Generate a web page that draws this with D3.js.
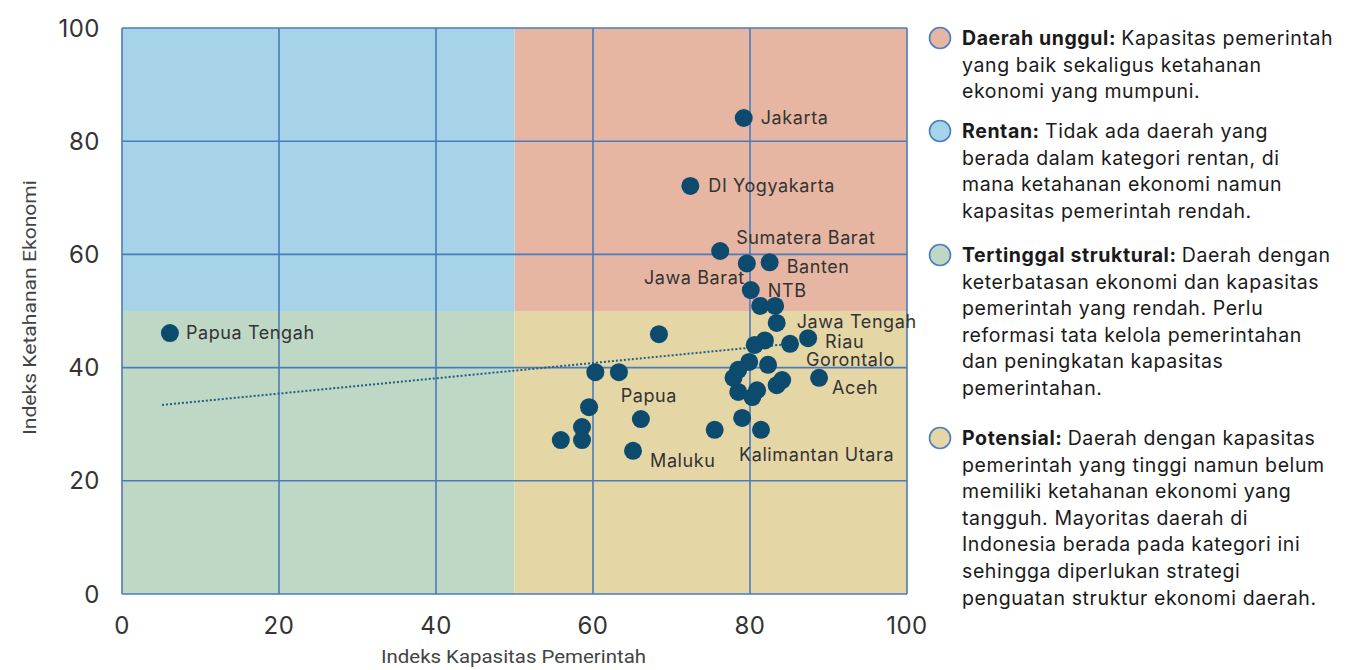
<!DOCTYPE html>
<html>
<head>
<meta charset="utf-8">
<script src="https://cdn.jsdelivr.net/npm/d3@7"></script>
<style>
  body { margin: 0; background: #fff; }
  text { font-family: Inter, "Noto Sans", sans-serif; }
</style>
</head>
<body>
<svg id="chart" width="1364" height="670"></svg>
<script>
// index values
var provinces = ["Jakarta","DI Yogyakarta","Sumatera Barat","Jawa Barat","Banten","NTB","p7","p8","Jawa Tengah","Riau",
  "p11","Gorontalo","p13","p14","p15","p16","p17","p18","p19","p20","p21","Aceh","p23","p24","Kalimantan Utara",
  "Papua Tengah","p27","p28","p29","Papua","p31","p32","p33","Maluku","p35","p36"];
var kapasitas = [79.2,72.4,76.2,79.6,82.5,80.1,81.3,83.2,83.4,87.4,
  85.1,82.3,81.9,80.6,79.9,78.5,77.9,78.5,80.3,80.9,83.4,88.8,79.0,75.5,81.4,
  6.1,68.4,60.3,63.3,66.1,59.5,58.6,58.6,65.1,55.9,84.1];
var ketahanan = [84.1,72.1,60.6,58.4,58.6,53.7,50.9,50.9,47.9,45.2,
  44.2,40.5,44.8,44.0,41.0,39.6,38.2,35.7,34.8,36.0,36.9,38.2,31.1,29.0,29.0,
  46.1,45.9,39.2,39.2,30.9,33.0,29.5,27.2,25.3,27.2,37.8];

var trendX = [5.1, 85.1];
var trendY = [33.4, 44.2];

var ticks = [0, 20, 40, 60, 80, 100];

var quadrants = [
  {name: "Daerah unggul", x0: 50, x1: 100, y0: 50, y1: 100, color: "#e7b6a2",
   text: ["Kapasitas pemerintah", "yang baik sekaligus ketahanan", "ekonomi yang mumpuni."]},
  {name: "Rentan", x0: 0, x1: 50, y0: 50, y1: 100, color: "#a7d3e8",
   text: ["Tidak ada daerah yang", "berada dalam kategori rentan, di", "mana ketahanan ekonomi namun", "kapasitas pemerintah rendah."]},
  {name: "Tertinggal struktural", x0: 0, x1: 50, y0: 0, y1: 50, color: "#bfd8c5",
   text: ["Daerah dengan", "keterbatasan ekonomi dan kapasitas", "pemerintah yang rendah. Perlu", "reformasi tata kelola pemerintahan", "dan peningkatan kapasitas", "pemerintahan."]},
  {name: "Potensial", x0: 50, x1: 100, y0: 0, y1: 50, color: "#e5d6a6",
   text: ["Daerah dengan kapasitas", "pemerintah yang tinggi namun belum", "memiliki ketahanan ekonomi yang", "tangguh. Mayoritas daerah di", "Indonesia berada pada kategori ini", "sehingga diperlukan strategi", "penguatan struktur ekonomi daerah."]}
];

// label placement (dx, dy, anchor) for labeled points
var labelPos = {
  "Jakarta": [17, 6, "start"],
  "DI Yogyakarta": [18, 6, "start"],
  "Sumatera Barat": [16, -7, "start"],
  "Jawa Barat": [-2, 21, "end"],
  "Banten": [17, 11, "start"],
  "NTB": [17, 7, "start"],
  "Jawa Tengah": [20, 5, "start"],
  "Riau": [17, 10, "start"],
  "Gorontalo": [38, 1, "start"],
  "Aceh": [13, 16, "start"],
  "Kalimantan Utara": [-22, 31, "start"],
  "Papua Tengah": [16, 6, "start"],
  "Papua": [8, -17, "middle"],
  "Maluku": [17, 16, "start"]
};

var svg = d3.select("#chart");
var plotLeft = 122, plotRight = 907, plotTop = 28, plotBottom = 594;

var x = d3.scaleLinear().domain([0, 100]).range([plotLeft, plotRight]);
var y = d3.scaleLinear().domain([0, 100]).range([plotBottom, plotTop]);

var points = provinces.map(function(p, i) {
  return {name: p, x: kapasitas[i], y: ketahanan[i]};
});

// quadrant backgrounds
svg.selectAll(".quad")
  .data(quadrants)
  .enter().append("rect")
  .attr("class", "quad")
  .attr("x", function(d) { return x(d.x0); })
  .attr("y", function(d) { return y(d.y1); })
  .attr("width", function(d) { return x(d.x1) - x(d.x0); })
  .attr("height", function(d) { return y(d.y0) - y(d.y1); })
  .style("fill", function(d) { return d.color; });

// grid
var gridColor = "#4a7bbd";
svg.selectAll(".vgrid")
  .data(ticks)
  .enter().append("line")
  .attr("x1", function(d) { return x(d); })
  .attr("x2", function(d) { return x(d); })
  .attr("y1", plotTop).attr("y2", plotBottom)
  .style("stroke", gridColor).style("stroke-width", 1.6);
svg.selectAll(".hgrid")
  .data(ticks)
  .enter().append("line")
  .attr("y1", function(d) { return y(d); })
  .attr("y2", function(d) { return y(d); })
  .attr("x1", plotLeft).attr("x2", plotRight)
  .style("stroke", gridColor).style("stroke-width", 1.6);

// tick labels
svg.selectAll(".ytick")
  .data(ticks)
  .enter().append("text")
  .attr("x", 100)
  .attr("y", function(d) { return y(d); })
  .attr("dy", "0.36em")
  .style("text-anchor", "end")
  .style("font-size", "24px")
  .style("letter-spacing", "0.5px")
  .style("fill", "#333")
  .text(function(d) { return d; });
svg.selectAll(".xtick")
  .data(ticks)
  .enter().append("text")
  .attr("x", function(d) { return x(d); })
  .attr("y", 634)
  .style("text-anchor", "middle")
  .style("font-size", "24px")
  .style("letter-spacing", "0.5px")
  .style("fill", "#333")
  .text(function(d) { return d; });

// axis titles
svg.append("text")
  .attr("x", 381).attr("y", 663)
  .attr("textLength", 265)
  .attr("lengthAdjust", "spacingAndGlyphs")
  .style("font-family", "Roboto, sans-serif")
  .style("font-size", "18px")
  .style("fill", "#444")
  .text("Indeks Kapasitas Pemerintah");
svg.append("text")
  .attr("transform", "translate(36,435) rotate(-90)")
  .attr("textLength", 255)
  .attr("lengthAdjust", "spacingAndGlyphs")
  .style("font-family", "Roboto, sans-serif")
  .style("font-size", "18px")
  .style("fill", "#444")
  .text("Indeks Ketahanan Ekonomi");

// trend line
svg.append("line")
  .attr("x1", x(trendX[0])).attr("y1", y(trendY[0]))
  .attr("x2", x(trendX[1])).attr("y2", y(trendY[1]))
  .style("stroke", "#1f5f86")
  .style("stroke-width", 2)
  .style("stroke-dasharray", "2,2");

// points
svg.selectAll(".dot")
  .data(points)
  .enter().append("circle")
  .attr("cx", function(d) { return x(d.x); })
  .attr("cy", function(d) { return y(d.y); })
  .attr("r", 9)
  .style("fill", "#0c4a6e");

// labels
svg.selectAll(".lbl")
  .data(points.filter(function(d) { return labelPos[d.name]; }))
  .enter().append("text")
  .attr("x", function(d) { return x(d.x) + labelPos[d.name][0]; })
  .attr("y", function(d) { return y(d.y) + labelPos[d.name][1]; })
  .style("text-anchor", function(d) { return labelPos[d.name][2]; })
  .style("font-size", "18px")
  .style("letter-spacing", "0.6px")
  .style("fill", "#333")
  .text(function(d) { return d.name; });

// legend
var legendTop = [38, 131, 255, 438];
var lineH = 26.6;
var legend = svg.selectAll(".legend")
  .data(quadrants)
  .enter().append("g")
  .attr("class", "legend")
  .attr("transform", function(d, i) { return "translate(940," + legendTop[i] + ")"; });

legend.append("circle")
  .attr("r", 10.5)
  .style("fill", function(d) { return d.color; })
  .style("stroke", "#4a7ec0")
  .style("stroke-width", 1.6);

legend.each(function(d) {
  var g = d3.select(this);
  var t = g.append("text")
    .attr("x", 22).attr("y", 7)
    .style("font-size", "19.5px")
    .style("letter-spacing", "0.6px")
    .style("fill", "#1a1a1a");
  t.append("tspan").style("font-weight", "bold").text(d.name + ": ");
  t.append("tspan").text(d.text[0]);
  d.text.slice(1).forEach(function(line, i) {
    g.append("text")
      .attr("x", 22).attr("y", 7 + (i + 1) * lineH)
      .style("font-size", "19.5px")
      .style("letter-spacing", "0.6px")
      .style("fill", "#1a1a1a")
      .text(line);
  });
});
</script>
</body>
</html>
